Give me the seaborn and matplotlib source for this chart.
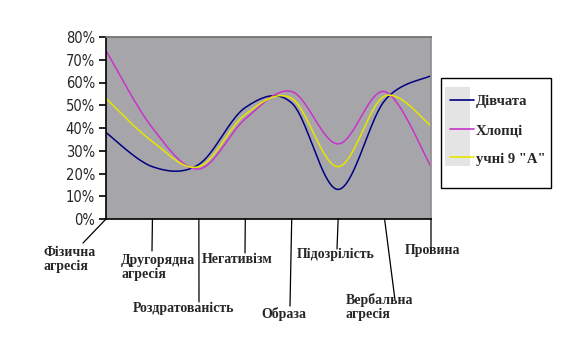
import matplotlib
matplotlib.use('Agg')
import matplotlib.pyplot as plt
from matplotlib.lines import Line2D
from matplotlib.patches import Rectangle
from matplotlib import font_manager
import seaborn as sns
import numpy as np
import pandas as pd

# categories (x axis) and the three series, in percent
categories = ['Фізична\nагресія', 'Другорядна\nагресія', 'Роздратованість', 'Негативізм',
              'Образа', 'Підозрілість', 'Вербальна\nагресія', 'Провина']
girls = [38, 23, 24, 49, 51, 13, 52, 63]
boys = [74, 40, 22, 44, 56, 33, 56, 23]
class9a = [53, 34, 23, 46, 53, 23, 54, 41]
series_names = ['Дівчата', 'Хлопці', 'учні 9 "А"']
series_colors = ['#000080', '#c833c8', '#e6e600']


def smooth(values, steps=40):
    # Excel-like smoothed line (Catmull-Rom Bezier)
    y = np.asarray(values, dtype=float)
    x = np.arange(len(y), dtype=float)
    px = np.concatenate([[x[0]], x, [x[-1]]])
    py = np.concatenate([[y[0]], y, [y[-1]]])
    xs, ys = [], []
    t = np.linspace(0, 1, steps)
    for i in range(len(y) - 1):
        p0 = np.array([px[i + 1], py[i + 1]])
        p3 = np.array([px[i + 2], py[i + 2]])
        p1 = p0 + (p3 - np.array([px[i], py[i]])) / 6
        p2 = p3 - (np.array([px[i + 3], py[i + 3]]) - p0) / 6
        b = ((1 - t) ** 3)[:, None] * p0 + (3 * (1 - t) ** 2 * t)[:, None] * p1 \
            + (3 * (1 - t) * t ** 2)[:, None] * p2 + (t ** 3)[:, None] * p3
        xs.extend(b[:, 0])
        ys.extend(b[:, 1])
    return xs, ys


rows = []
for name, vals in zip(series_names, [girls, boys, class9a]):
    xs, ys = smooth(vals)
    rows += [{'pos': a, 'value': b, 'series': name} for a, b in zip(xs, ys)]
df = pd.DataFrame(rows)

sns.set_theme(style='white')
fig = plt.figure(figsize=(5.61, 3.52), dpi=100)
W, H = 561, 352
ax = fig.add_axes([106 / W, 1 - 219 / H, 325 / W, 182 / H])
ax.set_facecolor('#a6a6aa')

sns.lineplot(data=df, x='pos', y='value', hue='series', palette=series_colors,
             hue_order=series_names, sort=False, estimator=None, linewidth=1.1,
             legend=False, ax=ax)

ax.set_xlim(0, len(categories) - 1)
ax.set_ylim(0, 80)
ax.set_xticks([])
ax.set_yticks(range(0, 81, 10))
tick_font = font_manager.FontProperties(family='DejaVu Sans', stretch='condensed', size=10.5)
ax.set_yticklabels([f'{v}%' for v in range(0, 81, 10)], fontproperties=tick_font)
ax.tick_params(axis='y', direction='out', length=5, width=1.2, color='black', pad=3, left=True)
ax.set_xlabel('')
ax.set_ylabel('')
for side in ['left', 'bottom']:
    ax.spines[side].set_color('black')
    ax.spines[side].set_linewidth(1.2)
ax.spines['top'].set_color('#707070')
ax.spines['right'].set_color('#909090')

# category labels: text top-left and leader line end, in image pixels
label_text = [(43, 246), (121, 254), (133, 302), (202, 253),
              (261, 307), (297, 248), (346, 293), (405, 244)]
line_end = [(83, 243), (152, 251), (199, 302), (245, 253),
            (290, 306), (337, 249), (395, 300), (431, 250)]
serif = ['Liberation Serif', 'DejaVu Serif']
for i, (lab, (tx, ty), (lx, ly)) in enumerate(zip(categories, label_text, line_end)):
    ax.annotate('', xy=(i, 0), xycoords=('data', 'axes fraction'),
                xytext=(lx, H - ly), textcoords='figure pixels', annotation_clip=False,
                arrowprops=dict(arrowstyle='-', color='black', lw=0.9, shrinkA=0, shrinkB=0))
    fig.text(tx / W, 1 - ty / H, lab, ha='left', va='top', multialignment='left',
             family=serif, fontweight='bold', fontsize=10, linespacing=1.1)

# legend: white box, light grey strip behind the handles
fig.patches.append(Rectangle((441 / W, 1 - 188 / H), 110 / W, 110 / H, transform=fig.transFigure,
                             facecolor='white', edgecolor='black', lw=1, zorder=1))
fig.patches.append(Rectangle((445 / W, 1 - 166 / H), 25 / W, 79 / H, transform=fig.transFigure,
                             facecolor='#e4e4e4', edgecolor='none', zorder=2))
handles = [Line2D([], [], color=c, lw=1.2) for c in series_colors]
leg = fig.legend(handles, series_names, loc='upper left',
                 bbox_to_anchor=(443 / W, 1 - 88 / H), bbox_transform=fig.transFigure,
                 frameon=False, handlelength=1.6, handletextpad=0.15, labelspacing=1.05,
                 borderpad=0, prop={'family': serif, 'weight': 'bold', 'size': 10.5})
leg.set_zorder(3)

fig.savefig('out.png', dpi=100)
